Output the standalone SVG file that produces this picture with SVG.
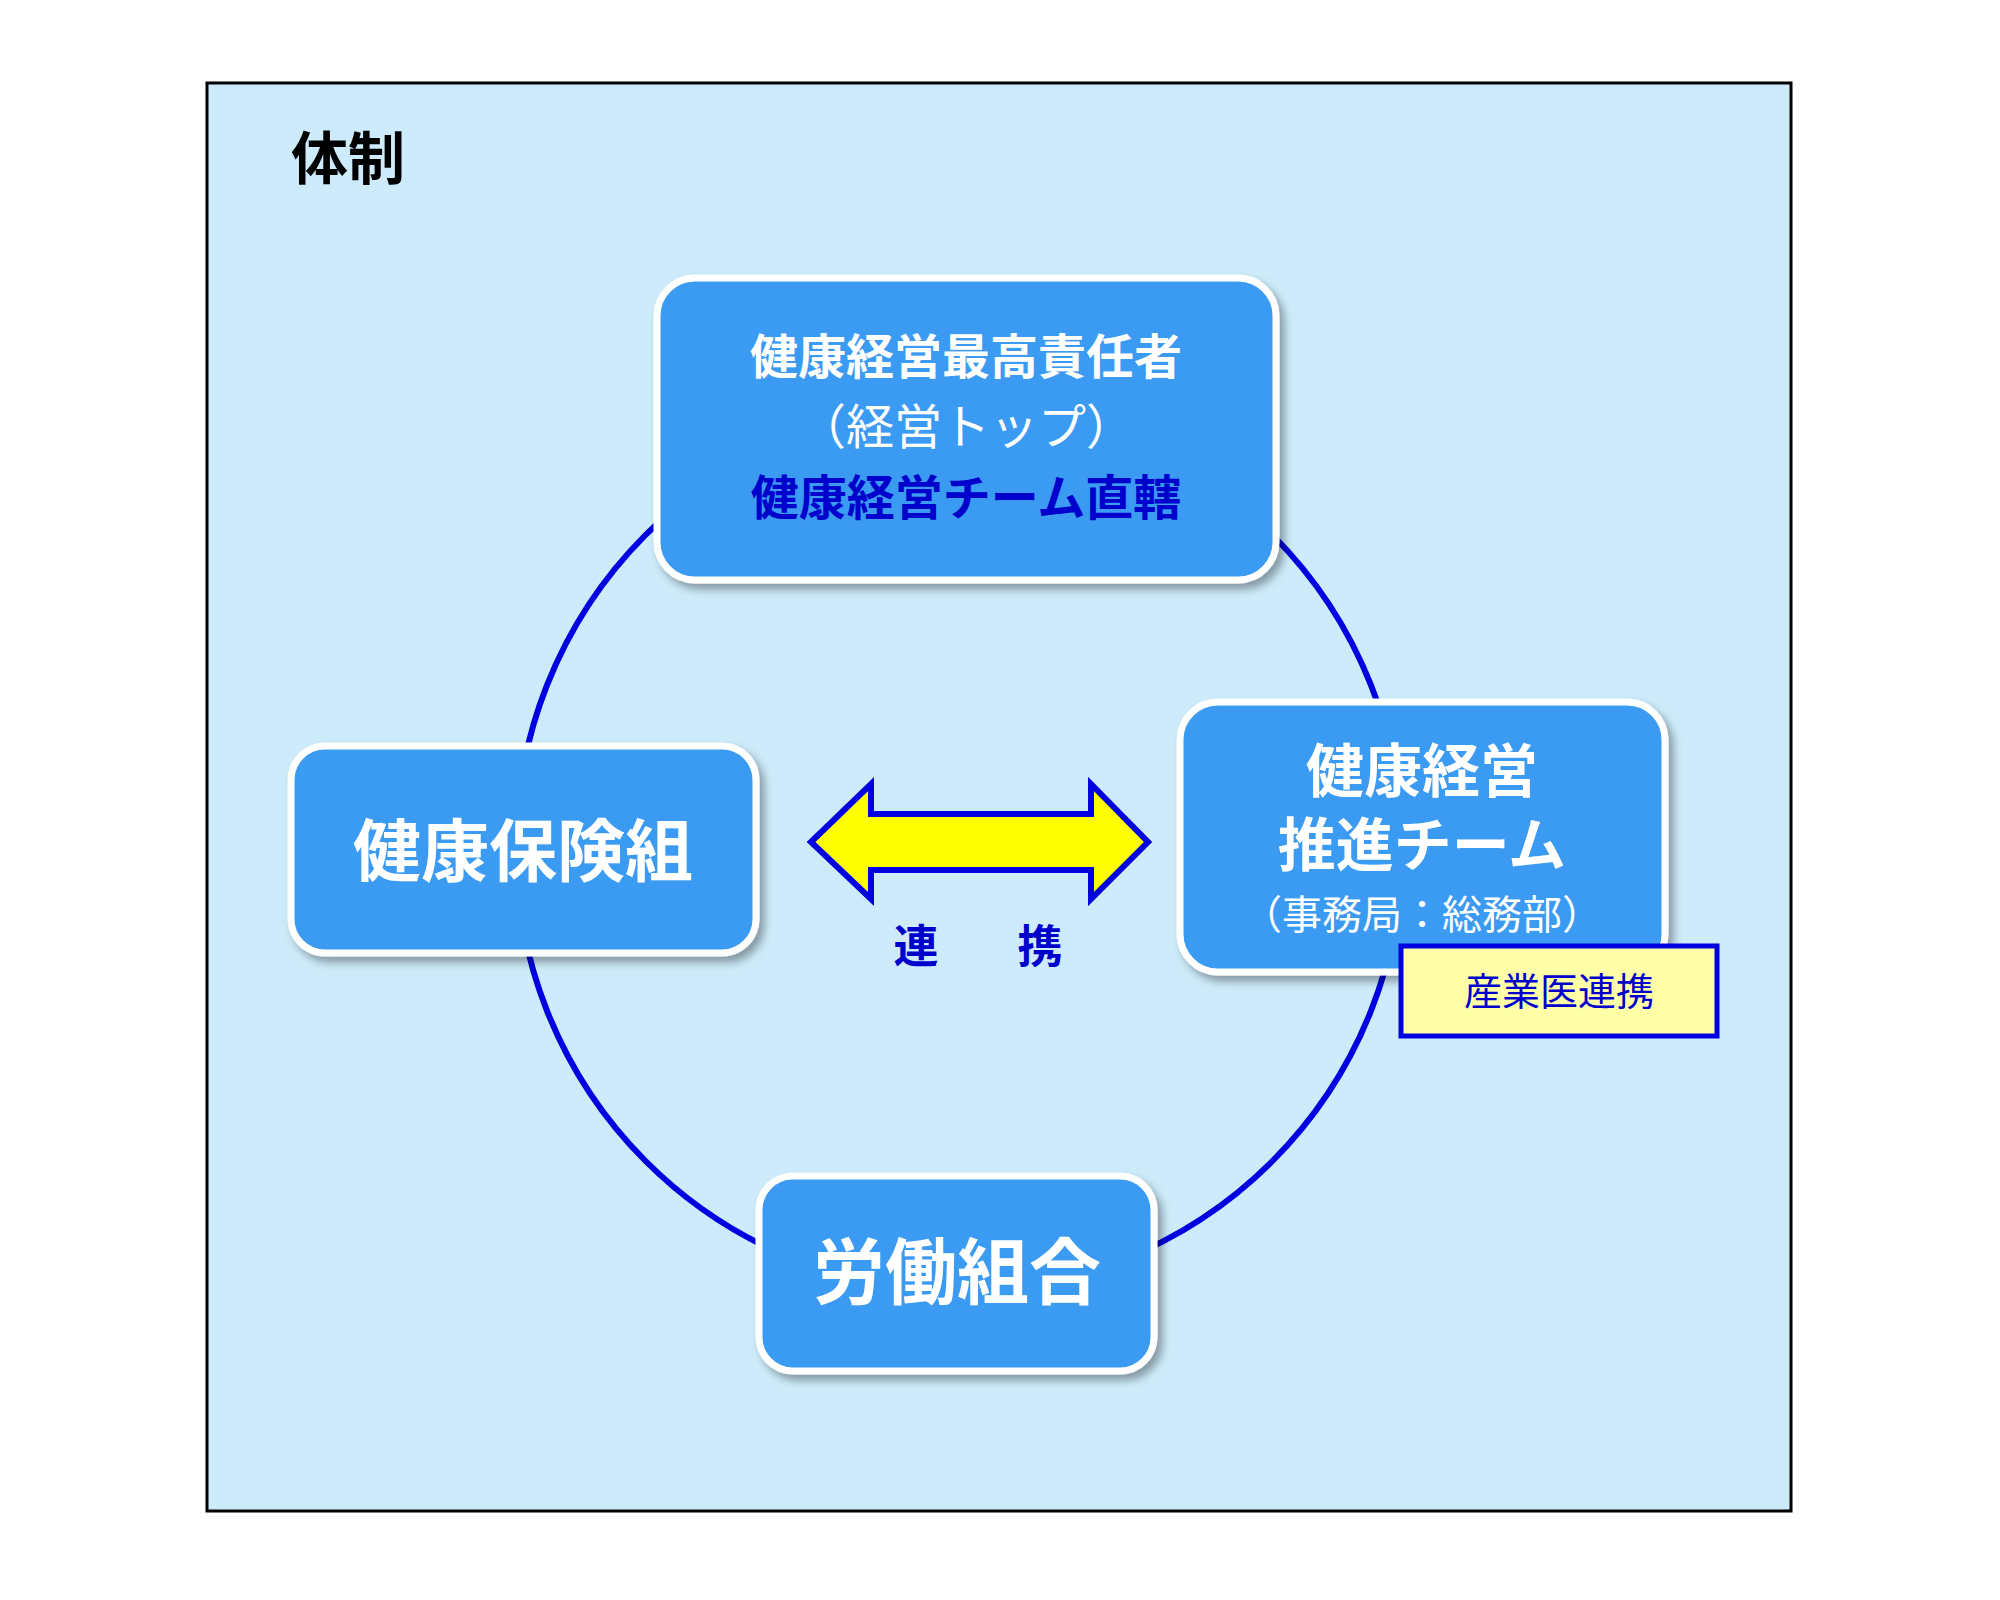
<svg xmlns="http://www.w3.org/2000/svg" width="2000" height="1600" viewBox="0 0 2000 1600">
<defs>
<filter id="sh" x="-10%" y="-10%" width="130%" height="130%"><feDropShadow dx="5" dy="6" stdDeviation="4" flood-color="#000" flood-opacity="0.35"/></filter>
</defs>
<style>
.node{fill:#3A9AF2;stroke:#fff;stroke-width:7;filter:url(#sh)}
.t{font-family:"Liberation Sans","Noto Sans CJK JP",sans-serif;font-weight:bold;fill:#fff;text-anchor:middle}
.b{fill:#0000CC}
</style>
<rect x="0" y="0" width="2000" height="1600" fill="#fff"/>
<rect x="207" y="83" width="1584" height="1428" fill="#CDEBFA" stroke="#000" stroke-width="3"/>
<text x="291" y="179" class="t" style="fill:#000;text-anchor:start;font-size:57px">体制</text>
<g id="connectors">
<circle cx="959" cy="848" r="443" fill="none" stroke="#0000E0" stroke-width="6"/>
<polygon points="811,842 871,784 871,814 1091,814 1091,784 1148,842 1091,899 1091,870 871,870 871,899" fill="#FFFF00" stroke="#0000E0" stroke-width="6" stroke-linejoin="miter"/>
<text x="916" y="963" class="t b" style="font-size:45px">連</text>
<text x="1040" y="963" class="t b" style="font-size:45px">携</text>
</g>
<g id="top">
<rect x="657" y="278" width="619" height="302" rx="38" class="node"/>
<text x="966" y="374" class="t" style="font-size:48px">健康経営最高責任者</text>
<text x="966" y="444" class="t" style="font-size:48px;font-weight:normal">（経営トップ）</text>
<text x="966" y="515" class="t b" style="font-size:48px">健康経営チーム直轄</text>
</g>
<g id="left">
<rect x="291" y="746" width="465" height="207" rx="34" class="node"/>
<text x="523" y="876" class="t" style="font-size:68px">健康保険組</text>
</g>
<g id="right">
<rect x="1180" y="702" width="485" height="270" rx="38" class="node"/>
<text x="1422" y="792" class="t" style="font-size:58px">健康経営</text>
<text x="1422" y="866" class="t" style="font-size:58px">推進チーム</text>
<text x="1422" y="929" class="t" style="font-size:40px;font-weight:normal">（事務局：総務部）</text>
</g>
<g id="bottom">
<rect x="759" y="1176" width="395" height="195" rx="34" class="node"/>
<text x="957" y="1298" class="t" style="font-size:72px">労働組合</text>
</g>
<g id="doctor">
<rect x="1401" y="946" width="316" height="90" fill="#FFFFA8" stroke="#0000E0" stroke-width="5"/>
<text x="1559" y="1005" class="t b" style="font-size:38px;font-weight:normal">産業医連携</text>
</g>
</svg>
